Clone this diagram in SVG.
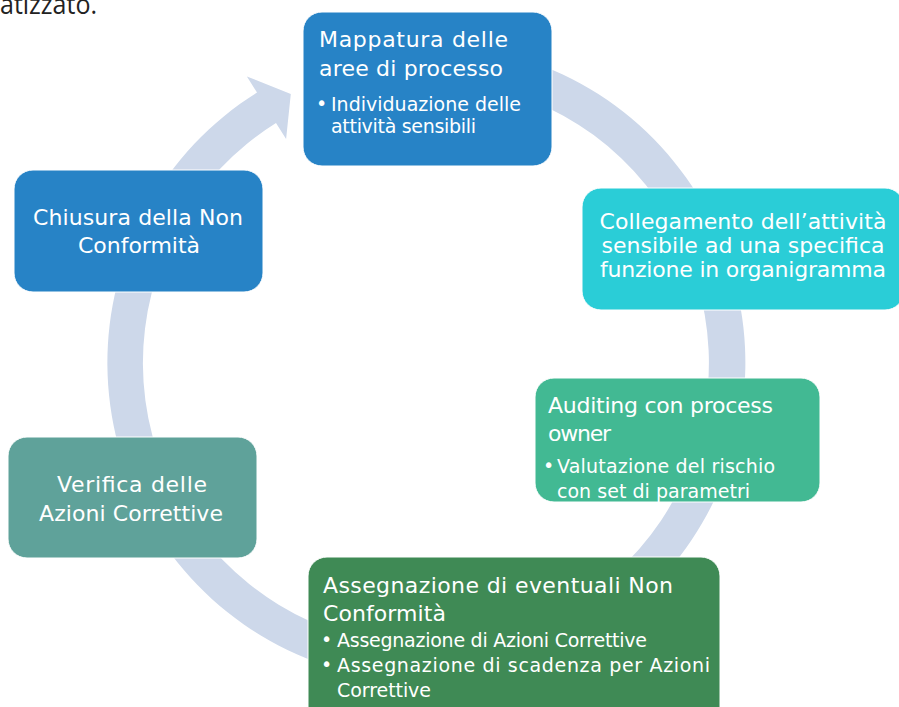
<svg xmlns="http://www.w3.org/2000/svg" width="899" height="707" viewBox="0 0 899 707">
  <style>
    .box { stroke: #ffffff; stroke-width: 1; }
    .t { font-family: "DejaVu Sans", "Liberation Sans", sans-serif; fill: #ffffff; }
    .h { font-size: 22px; }
    .b { font-size: 19px; }
    .c { text-anchor: middle; }
    .ring { fill: #cdd8ea; }
  </style>
  <rect width="899" height="707" fill="#ffffff"/>
  <text x="0" y="14" font-family="'Open Sans', 'Liberation Sans', sans-serif" font-size="28" fill="#222222" textLength="97" lengthAdjust="spacingAndGlyphs">atizzato.</text>

  <g id="connectors">
    <path class="ring" d="M 306.5 67.2 A 319 319 0 1 1 257.0 92.5 L 246.9 76.4 L 290.8 94.1 L 286.1 139.1 L 276.0 123.0 A 283 283 0 1 0 320.0 100.6 Z"/>
  </g>

  <g id="node-mappatura">
    <rect class="box" x="303" y="12" width="249" height="154" rx="19" fill="#2783c6"/>
    <text class="t h" x="319" y="47" textLength="189">Mappatura delle</text>
    <text class="t h" x="319" y="76" textLength="184">aree di processo</text>
    <text class="t b" x="316" y="110">•</text>
    <text class="t b" x="331" y="111" textLength="190">Individuazione delle</text>
    <text class="t b" x="331" y="133" textLength="145">attività sensibili</text>
  </g>

  <g id="node-collegamento">
    <rect class="box" x="582" y="188" width="322" height="122" rx="19" fill="#2acdd7"/>
    <text class="t h c" x="743" y="229" textLength="287">Collegamento dell’attività</text>
    <text class="t h c" x="743" y="253" textLength="283">sensibile ad una specifica</text>
    <text class="t h c" x="743" y="277" textLength="286">funzione in organigramma</text>
  </g>

  <g id="node-auditing">
    <rect class="box" x="535" y="378" width="285" height="124" rx="19" fill="#42b993"/>
    <text class="t h" x="548" y="413" textLength="225">Auditing con process</text>
    <text class="t h" x="548" y="441" textLength="63">owner</text>
    <text class="t b" x="543" y="472">•</text>
    <text class="t b" x="557" y="473" textLength="218">Valutazione del rischio</text>
    <text class="t b" x="557" y="498" textLength="193">con set di parametri</text>
  </g>

  <g id="node-assegnazione">
    <rect class="box" x="308" y="557" width="412" height="170" rx="19" fill="#3f8a55"/>
    <text class="t h" x="323" y="593" textLength="350">Assegnazione di eventuali Non</text>
    <text class="t h" x="323" y="621" textLength="123">Conformità</text>
    <text class="t b" x="321" y="646">•</text>
    <text class="t b" x="337" y="647" textLength="310">Assegnazione di Azioni Correttive</text>
    <text class="t b" x="321" y="671">•</text>
    <text class="t b" x="337" y="672" textLength="373">Assegnazione di scadenza per Azioni</text>
    <text class="t b" x="337" y="697" textLength="94">Correttive</text>
  </g>

  <g id="node-verifica">
    <rect class="box" x="8" y="437" width="249" height="121" rx="19" fill="#5fa29a"/>
    <text class="t h c" x="132" y="492" textLength="150">Verifica delle</text>
    <text class="t h c" x="131" y="521" textLength="184">Azioni Correttive</text>
  </g>

  <g id="node-chiusura">
    <rect class="box" x="14" y="170" width="249" height="122" rx="19" fill="#2783c6"/>
    <text class="t h c" x="138" y="225" textLength="210">Chiusura della Non</text>
    <text class="t h c" x="139" y="253" textLength="122">Conformità</text>
  </g>
</svg>
